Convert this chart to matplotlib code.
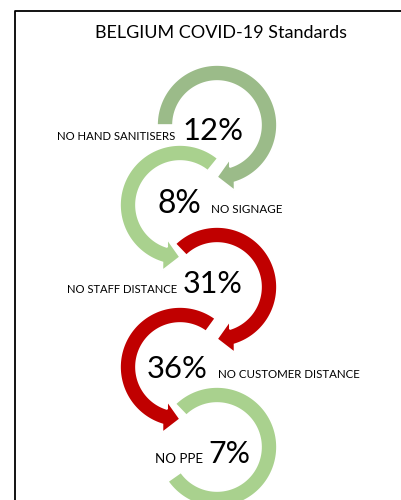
import numpy as np
import matplotlib
matplotlib.use("Agg")
import matplotlib.pyplot as plt
from matplotlib.patches import Polygon

# ---- data ----
title = "BELGIUM COVID-19 Standards"
categories = ["NO HAND SANITISERS", "NO SIGNAGE", "NO STAFF DISTANCE",
              "NO CUSTOMER DISTANCE", "NO PPE"]
values = [12, 8, 31, 36, 7]
colors = ["#9BBB89", "#A9D18E", "#C00000", "#C00000", "#A9D18E"]

# ---- layout (pixel space) ----
centers = [(217, 125), (180, 205), (217, 287), (180, 367), (217, 447)]
start_ang = [180, 51, 134, 54, 134]
tip_ang = [-90, 270, -90, 270, -145]
clockwise = [True, False, True, False, True]
has_head = [True, True, True, True, False]
R_IN, R_OUT = 44, 60
HEAD_SPAN, HEAD_HALF = 17, 16

# label placements: (left x, baseline y, target width)
lab_pos = [(57, 140, 119), (211, 213, 71), (67, 293, 111), (218, 378, 142), (155, 463, 48)]
num_pos = [(182, 140, 61), (158, 213, 44), (183, 293, 60), (147, 378, 61), (208, 463, 42)]

FONT = ["Lato", "DejaVu Sans"]

fig = plt.figure(figsize=(4.02, 5.0), dpi=100)
ax = fig.add_axes([0, 0, 1, 1])
ax.set_xlim(0, 402)
ax.set_ylim(500, 0)
ax.axis("off")

# frame
ax.plot([15, 15, 420], [520, 11, 11], color="black", lw=1.3, solid_capstyle="butt", zorder=1)


def pt(c, r, a):
    t = np.deg2rad(a)
    return np.array([c[0] + r * np.cos(t), c[1] - r * np.sin(t)])


def arc_shape(c, a0, a1, cw, head):
    rm = (R_IN + R_OUT) / 2
    if head:
        ab = a1 + HEAD_SPAN if cw else a1 - HEAD_SPAN
    else:
        ab = a1
    angs = np.linspace(a0, ab, 120)
    outer = [pt(c, R_OUT, a) for a in angs]
    inner = [pt(c, R_IN, a) for a in angs[::-1]]
    pts = list(outer)
    if head:
        base = pt(c, rm, ab)
        tip = pt(c, rm, a1)
        d = tip - base
        d = d / np.linalg.norm(d)
        perp = np.array([-d[1], d[0]])
        w1 = base + HEAD_HALF * perp
        w2 = base - HEAD_HALF * perp
        cc = np.array(c)
        if np.linalg.norm(w1 - cc) < np.linalg.norm(w2 - cc):
            w1, w2 = w2, w1
        pts += [w1, tip, w2]
    pts += inner
    return np.array(pts)


n = len(values)
for i in range(n - 1, -1, -1):
    poly = arc_shape(centers[i], start_ang[i], tip_ang[i], clockwise[i], has_head[i])
    ax.add_patch(Polygon(poly, closed=True, facecolor=colors[i], edgecolor="white",
                         lw=1.2, joinstyle="miter", zorder=2 + (n - i)))

fig.canvas.draw()
renderer = fig.canvas.get_renderer()


def fit_text(s, x, y, width, size0, ha="left"):
    t = ax.text(x, y, s, fontsize=size0, family=FONT, ha=ha, va="baseline",
                color="black", zorder=20)
    w = t.get_window_extent(renderer).width
    t.set_fontsize(size0 * width / w)
    return t


fit_text(title, 221, 38, 252, 13, ha="center")
for i in range(n):
    lx, ly, lw_ = lab_pos[i]
    fit_text(categories[i], lx, ly, lw_, 8)
    nx, ny, nw = num_pos[i]
    fit_text(f"{values[i]}%", nx, ny, nw, 24)

fig.savefig("out.png", dpi=100)
